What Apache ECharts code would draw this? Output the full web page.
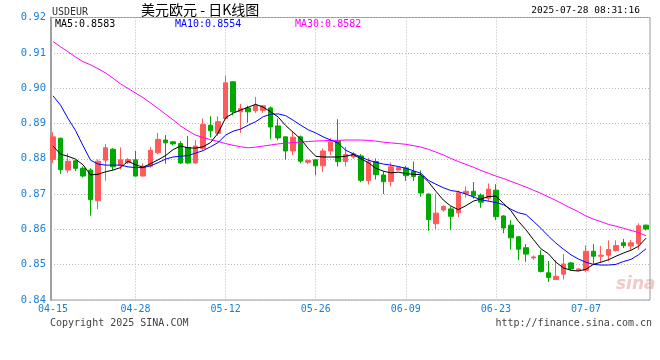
<!DOCTYPE html>
<html>
<head>
<meta charset="utf-8">
<script src="https://cdn.jsdelivr.net/npm/echarts@6/dist/echarts.min.js"></script>
<style>
html,body{margin:0;padding:0;background:#fff;}
#chart{width:660px;height:360px;}
</style>
</head>
<body>
<div id="chart"></div>
<script>
const symbolCode = 'USDEUR';
const titleText = '美元欧元 - 日K线图';
const stampText = '2025-07-28 08:31:16';
const legendNames = ['MA5', 'MA10', 'MA30'];
const legendValues = ['0.8583', '0.8554', '0.8582'];
const copyrightText = 'Copyright 2025 SINA.COM';
const urlText = 'http://finance.sina.com.cn';

const dates = [
'04-15','04-16','04-17','04-18','04-19',
'04-21','04-22','04-23','04-24','04-25','04-26',
'04-28','04-29','04-30','05-01','05-02','05-03',
'05-05','05-06','05-07','05-08','05-09','05-10',
'05-12','05-13','05-14','05-15','05-16','05-17',
'05-19','05-20','05-21','05-22','05-23','05-24',
'05-26','05-27','05-28','05-29','05-30','05-31',
'06-02','06-03','06-04','06-05','06-06','06-07',
'06-09','06-10','06-11','06-12','06-13','06-14',
'06-16','06-17','06-18','06-19','06-20','06-21',
'06-23','06-24','06-25','06-26','06-27','06-28',
'06-30','07-01','07-02','07-03','07-04','07-05',
'07-07','07-08','07-09','07-10','07-11','07-12',
'07-14','07-15','07-16'];

const xTickDates = ['04-15','04-28','05-12','05-26','06-09','06-23','07-07'];

const opens = [
.8798,.8858,.8768,.8794,.8773,.8768,.8681,.8796,.8827,.8782,
.8789,.8797,.8751,.8779,.8817,.8853,.8848,.8843,.8832,.8788,
.8829,.8895,.8872,.8914,.9018,.8933,.8944,.8936,.8937,.8944,
.8893,.8862,.8822,.8862,.8790,.8797,.8780,.8822,.8850,.8792,
.8805,.8808,.8738,.8792,.8754,.8736,.8768,.8774,.8764,.8751,
.8700,.8616,.8655,.8658,.8647,.8702,.8708,.8697,.8688,.8711,
.8638,.8612,.8579,.8548,.8519,.8526,.8477,.8458,.8473,.8505,
.8484,.8484,.8538,.8524,.8527,.8540,.8562,.8553,.8559,.8612];
const closes = [
.8862,.8769,.8793,.8773,.8751,.8684,.8793,.8831,.8777,.8797,
.8798,.8751,.8779,.8824,.8855,.8845,.8842,.8788,.8788,.8836,
.8897,.8879,.8905,.9015,.8933,.8942,.8933,.8952,.8950,.8890,
.8859,.8822,.8861,.8793,.8795,.8780,.8822,.8848,.8792,.8812,
.8814,.8739,.8791,.8755,.8735,.8777,.8775,.8752,.8750,.8703,
.8628,.8646,.8665,.8637,.8704,.8708,.8695,.8677,.8714,.8636,
.8604,.8576,.8544,.8530,.8522,.8481,.8464,.8467,.8502,.8488,
.8488,.8538,.8524,.8527,.8543,.8554,.8554,.8562,.8610,.8601];
const lows = [
.8787,.8757,.8760,.8765,.8747,.8639,.8657,.8738,.8768,.8770,
.8785,.8750,.8750,.8775,.8813,.8786,.8838,.8785,.8785,.8786,
.8824,.8860,.8865,.8912,.8923,.8873,.8902,.8930,.8930,.8855,
.8852,.8797,.8810,.8787,.8785,.8753,.8762,.8810,.8778,.8778,
.8800,.8734,.8727,.8741,.8700,.8722,.8767,.8737,.8737,.8693,
.8596,.8601,.8650,.8598,.8635,.8690,.8687,.8661,.8680,.8626,
.8589,.8543,.8513,.8508,.8514,.8478,.8451,.8457,.8458,.8484,
.8482,.8480,.8503,.8505,.8510,.8537,.8547,.8542,.8543,.8597];
const highs = [
.8875,.8860,.8815,.8798,.8778,.8773,.8798,.8842,.8830,.8832,
.8802,.8822,.8787,.8833,.8873,.8867,.8850,.8850,.8864,.8853,
.8914,.8920,.8920,.9035,.9020,.8955,.8950,.8975,.8952,.8948,
.8914,.8863,.8876,.8866,.8798,.8798,.8829,.8858,.8912,.8834,
.8820,.8813,.8802,.8801,.8765,.8789,.8776,.8780,.8792,.8767,
.8702,.8702,.8668,.8665,.8710,.8722,.8734,.8702,.8730,.8728,
.8640,.8626,.8580,.8558,.8526,.8541,.8510,.8513,.8530,.8508,
.8490,.8555,.8558,.8553,.8569,.8569,.8573,.8570,.8617,.8613];

const ma5 = [
.8836,.8813,.8807,.8799,.8783,.8754,.8756,.8763,.8768,.8775,
.8793,.8783,.8776,.8786,.8797,.8809,.8826,.8836,.8831,.8830,
.8834,.8846,.8873,.8916,.8929,.8938,.8946,.8954,.8946,.8933,
.8918,.8894,.8875,.8856,.8829,.8807,.8805,.8805,.8805,.8807,
.8812,.8800,.8789,.8773,.8765,.8760,.8762,.8758,.8756,.8755,
.8735,.8708,.8683,.8666,.8656,.8667,.8680,.8686,.8693,.8694,
.8674,.8653,.8623,.8599,.8571,.8545,.8531,.8507,.8491,.8484,
.8482,.8487,.8501,.8507,.8514,.8524,.8533,.8541,.8552,.8575];
const ma10 = [
.8978,.8952,.8914,.8880,.8837,.8796,.8785,.8782,.8782,.8782,
.8777,.8775,.8775,.8780,.8789,.8799,.8805,.8807,.8809,.8816,
.8823,.8834,.8846,.8867,.8878,.8884,.8895,.8905,.8919,.8926,
.8927,.8922,.8909,.8895,.8882,.8873,.8862,.8853,.8844,.8824,
.8814,.8805,.8796,.8790,.8785,.8782,.8778,.8773,.8766,.8759,
.8739,.8728,.8718,.8710,.8707,.8700,.8692,.8684,.8680,.8676,
.8670,.8657,.8647,.8642,.8623,.8603,.8581,.8561,.8544,.8528,
.8516,.8507,.8501,.8499,.8499,.8501,.8509,.8515,.8528,.8545];
const ma30 = [
.9132,.9117,.9103,.9088,.9075,.9066,.9055,.9043,.9028,.9012,
.8999,.8986,.8973,.8958,.8942,.8926,.8910,.8893,.8879,.8867,
.8860,.8854,.8849,.8843,.8838,.8834,.8831,.8833,.8836,.8839,
.8842,.8844,.8846,.8847,.8849,.8850,.8851,.8852,.8852,.8853,
.8853,.8853,.8852,.8850,.8847,.8845,.8843,.8841,.8837,.8833,
.8827,.8819,.8811,.8801,.8792,.8784,.8776,.8767,.8759,.8751,
.8744,.8736,.8728,.8720,.8711,.8702,.8692,.8682,.8671,.8660,
.8650,.8638,.8629,.8622,.8614,.8609,.8603,.8597,.8591,.8582];

const yMin = 0.84, yMax = 0.92, yStep = 0.01;

const UP = '#ff5b5b', DOWN = '#00a800';
const MONO = '"DejaVu Sans Mono", "Liberation Mono", monospace';
const AXISBLUE = '#1a7fd6';

const kData = opens.map((o, i) => [o, closes[i], lows[i], highs[i]]);

const chart = echarts.init(document.getElementById('chart'), null, {renderer: 'canvas'});

const gridTop = 17.5, gridBottom = 60;

const option = {
  animation: false,
  backgroundColor: '#ffffff',
  grid: [
    {left: 51, right: 10, top: gridTop, bottom: gridBottom, show: true,
     borderColor: '#9a9a9a', borderWidth: 1, backgroundColor: 'transparent'},
    {left: 53, right: 14, top: gridTop, bottom: gridBottom}
  ],
  xAxis: [
    {gridIndex: 0, type: 'value', min: 0, max: 1, show: false},
    {gridIndex: 1, type: 'category', data: dates, boundaryGap: false,
     axisLine: {show: false}, axisTick: {show: false},
     axisLabel: {
       interval: (idx, val) => xTickDates.indexOf(val) >= 0,
       color: AXISBLUE, fontFamily: MONO, fontSize: 10, margin: 4
     },
     splitLine: {
       show: true,
       interval: (idx, val) => idx > 0 && xTickDates.indexOf(val) >= 0,
       lineStyle: {color: '#b8b8b8', type: [1, 2], width: 1}
     }}
  ],
  yAxis: [
    {gridIndex: 0, type: 'value', min: yMin, max: yMax, interval: yStep,
     axisLine: {show: true, lineStyle: {color: '#a0a0a0', width: 2}},
     axisTick: {show: false},
     axisLabel: {color: AXISBLUE, fontFamily: MONO, fontSize: 10.5, margin: 5,
       formatter: v => v.toFixed(2)},
     splitLine: {show: true, lineStyle: {color: '#b8b8b8', type: [1, 2], width: 1}}},
    {gridIndex: 1, type: 'value', min: yMin, max: yMax, show: false}
  ],
  series: [
    {type: 'candlestick', xAxisIndex: 1, yAxisIndex: 1, data: kData, barWidth: 5,
     itemStyle: {color: UP, color0: DOWN, borderColor: UP, borderColor0: DOWN, borderWidth: 1}},
    {type: 'line', name: 'MA30', xAxisIndex: 1, yAxisIndex: 1, data: ma30, symbol: 'none',
     lineStyle: {color: '#ff00ff', width: 1}},
    {type: 'line', name: 'MA10', xAxisIndex: 1, yAxisIndex: 1, data: ma10, symbol: 'none',
     lineStyle: {color: '#0000ff', width: 1}},
    {type: 'line', name: 'MA5', xAxisIndex: 1, yAxisIndex: 1, data: ma5, symbol: 'none',
     lineStyle: {color: '#000000', width: 1}}
  ],
  graphic: [
    {type: 'text', left: 52, top: 7,
     style: {text: symbolCode, font: '10px ' + MONO, fill: '#333'}},
    {type: 'text', left: 141, top: 3,
     style: {text: titleText, font: '14px "Noto Sans CJK SC"', fill: '#000'}},
    {type: 'text', right: 20, top: 6,
     style: {text: stampText, font: '9.5px ' + MONO, fill: '#000'}},
    {type: 'text', left: 55, top: 19,
     style: {text: legendNames[0] + ':' + legendValues[0], font: '10px ' + MONO, fill: '#000'}},
    {type: 'text', left: 175, top: 19,
     style: {text: legendNames[1] + ':' + legendValues[1], font: '10px ' + MONO, fill: '#0000ff'}},
    {type: 'text', left: 295, top: 19,
     style: {text: legendNames[2] + ':' + legendValues[2], font: '10px ' + MONO, fill: '#ff00ff'}},
    {type: 'text', left: 50, top: 318,
     style: {text: copyrightText, font: '10px ' + MONO, fill: '#444'}},
    {type: 'text', right: 8, top: 318,
     style: {text: urlText, font: '10px ' + MONO, fill: '#444'}},
    {type: 'text', left: 616, top: 276, z: -1,
     style: {text: 'sina', font: 'italic bold 17px "DejaVu Sans"', fill: '#f3caca'}}
  ]
};
chart.setOption(option);
</script>
</body>
</html>
